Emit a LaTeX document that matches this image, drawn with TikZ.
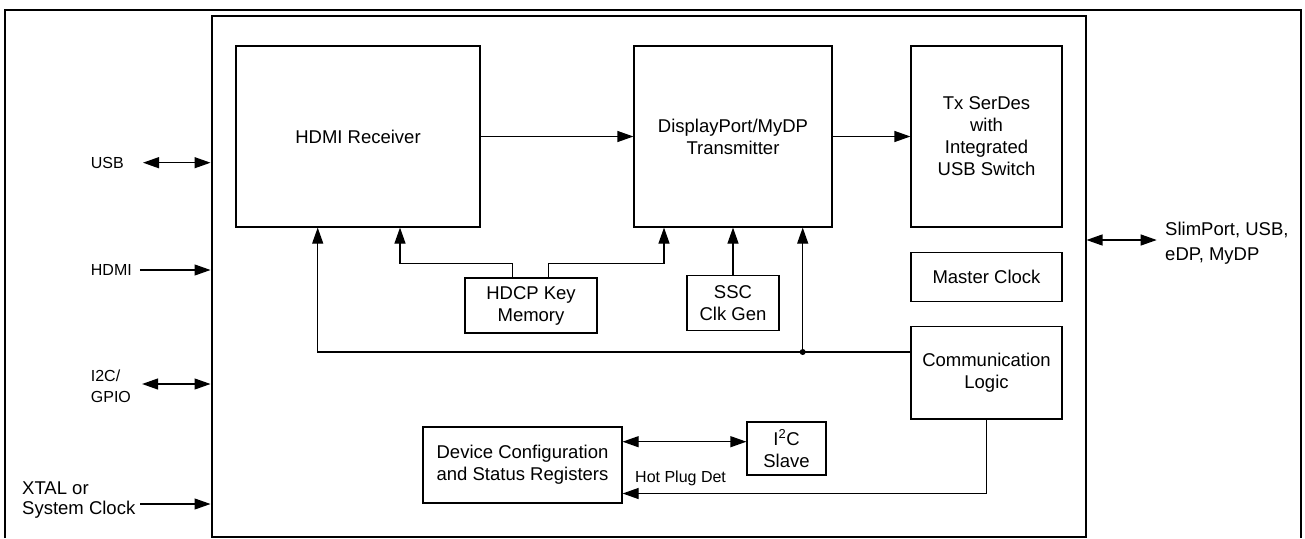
\documentclass[tikz,border=0pt]{standalone}
\usepackage{fontspec}
\setmainfont{Liberation Sans}
\usepackage{tikz}
\usetikzlibrary{arrows.meta}
\tikzset{
  blk/.style={draw, line width=1.2pt, inner sep=0pt, align=center, font=\fontsize{18.5}{22}\selectfont},
  lbl/.style={inner sep=0pt, font=\fontsize{16}{20.5}\selectfont},
  biglbl/.style={inner sep=0pt, font=\fontsize{18.5}{20}\selectfont},
  arr/.style={-{Triangle[length=16pt,width=11pt]}, line width=1.2pt},
  darr/.style={{Triangle[length=16pt,width=11pt]}-{Triangle[length=16pt,width=11pt]}, line width=1.2pt},
  chipframe/.style={line width=2pt}
}

\begin{document}
\begin{tikzpicture}[x=1pt,y=-1pt]
\useasboundingbox (0,0) rectangle (1305,538);
\draw[chipframe] (5,538) -- (5,9.7) -- (1301,9.7) -- (1301,538);
	\node[draw, chipframe, minimum width=874pt, minimum height=521pt] (chip) at (648.5,276) {};
	\node[blk, minimum width=244pt, minimum height=181pt] (hdmirx) at (358,136.5) {HDMI Receiver};
	\node[blk, minimum width=198pt, minimum height=181pt] (dptx) at (733,136.5) {DisplayPort/MyDP\\Transmitter};
	\node[blk, minimum width=151pt, minimum height=181pt] (serdes) at (986.5,136.5) {Tx SerDes\\with\\Integrated\\USB Switch};
	\node[blk, minimum width=151pt, minimum height=49pt] (mclk) at (986.5,277) {Master Clock};
	\node[blk, minimum width=151pt, minimum height=92.5pt] (comm) at (986.5,372.75) {Communication\\Logic};
	\node[blk, minimum width=132pt, minimum height=55pt] (hdcp) at (531,305.5) {HDCP Key\\Memory};
	\node[blk, minimum width=92pt, minimum height=55pt] (ssc) at (733,303) {SSC\\Clk Gen};
	\node[blk, minimum width=199pt, minimum height=76pt] (devcfg) at (522.5,465) {Device Configuration\\and Status Registers};
	\node[blk, minimum width=79pt, minimum height=53pt] (i2cs) at (786.5,448.5) {I\textsuperscript{2}C\\Slave};
	\draw[arr] (hdmirx) -- (dptx);
	\draw[arr] (dptx) -- (serdes);
	\draw[arr] ([xshift=-18.3pt]hdcp.north) -- ++(0,-14) -| ([xshift=42pt]hdmirx.south);
	\draw[arr] ([xshift=17.7pt]hdcp.north) -- ++(0,-14) -| ([xshift=-69pt]dptx.south);
	\draw[arr] (ssc.north) -- (dptx.south);
	\coordinate (cl) at ([yshift=20.75pt]comm.west);
	\coordinate (jn) at ([xshift=69.7pt]dptx.south |- cl);
	\draw[arr] (cl) -| ([xshift=-40.3pt]hdmirx.south);
	\draw[arr] (jn) -- (jn |- dptx.south);
	\fill (jn) circle (3pt);
	\draw[darr] ([yshift=23.3pt]devcfg.east) -- ([yshift=23.3pt]devcfg.east -| i2cs.west);
	\draw[arr] (comm.south) |- ([yshift=-28.5pt]devcfg.east);
	\node[lbl, anchor=west] (hpd) at (635,478) {Hot Plug Det};
	\node[lbl, anchor=west] (usb) at (90.7,162.7) {USB};
	\draw[darr] ([xshift=19pt]usb.east) -- (usb.east -| chip.west);
	\node[lbl, anchor=west] (hdmiin) at (90.7,270) {HDMI};
	\draw[arr] ([xshift=8pt]hdmiin.east) -- (hdmiin.east -| chip.west);
	\node[lbl, anchor=west, align=left] (gpio) at (90.7,386.3) {I2C/\\GPIO};
	\draw[darr] ([xshift=11pt,yshift=2.3pt]gpio.east) -- ([yshift=2.3pt]gpio.east -| chip.west);
	\node[biglbl, anchor=west, align=left] (xtal) at (22,500) {XTAL or\\System Clock};
	\draw[arr] ([xshift=5pt,yshift=-4pt]xtal.east) -- ([yshift=-4pt]xtal.east -| chip.west);
	\node[biglbl, anchor=west, align=left, font=\fontsize{18.5}{25}\selectfont] (slim) at (1165,243) {SlimPort, USB,\\eDP, MyDP};
	\draw[darr] ([xshift=-8.3pt,yshift=3pt]slim.west) -- ([yshift=3pt]slim.west -| chip.east);
\end{tikzpicture}
\end{document}
